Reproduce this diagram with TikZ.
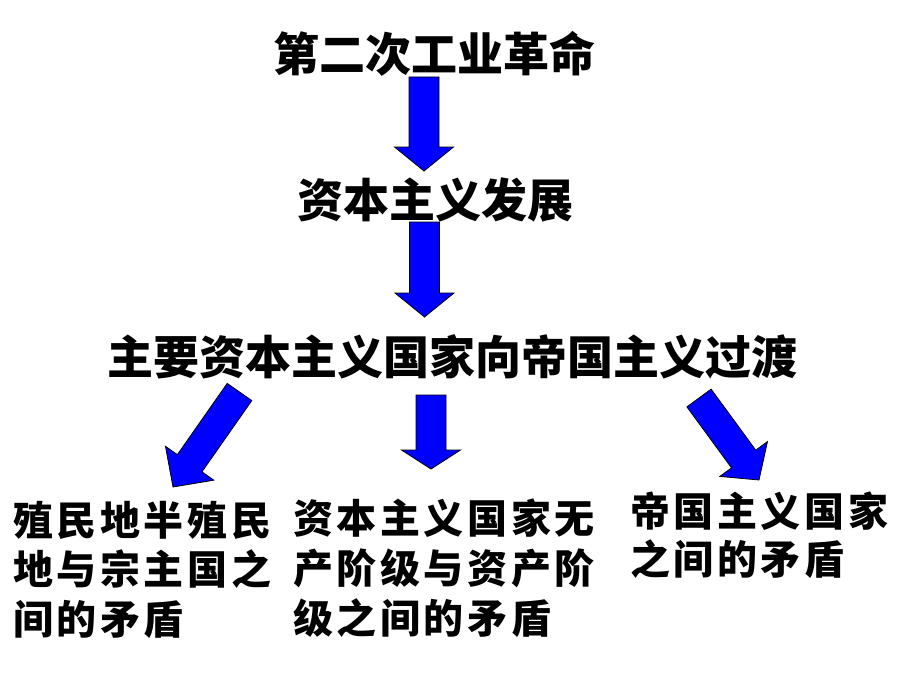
\documentclass[tikz,border=0pt]{standalone}
\usepackage{fontspec}
\usetikzlibrary{calc}
\newfontfamily\cjk{Noto Sans CJK SC}
\newfontfamily\cjksp{Noto Sans CJK SC}[LetterSpace=9]
\tikzset{
  blockarrow/.style={draw=black, line width=0.8pt, fill=blue, line join=miter},
  bigtext/.style={font=\cjk\bfseries\fontsize{46}{52}\selectfont, inner sep=0pt, text=black},
  smalltext/.style={font=\cjksp\bfseries\fontsize{40}{46}\selectfont, inner sep=0pt, anchor=west, text=black},
}
\newcommand\blockarrow[3]{%
  \coordinate (ba-c) at ($(#2)!#3!(#1)$);
  \draw[blockarrow] ($(#1)!15pt!90:(#2)$) -- ($(ba-c)!15pt!90:(#2)$) -- ($(ba-c)!29.5pt!90:(#2)$) -- (#2) -- ($(ba-c)!29.5pt!-90:(#2)$) -- ($(ba-c)!15pt!-90:(#2)$) -- ($(#1)!15pt!-90:(#2)$) -- cycle;
}
\begin{document}
\begin{tikzpicture}[x=1pt,y=-1pt]
\useasboundingbox[fill=white] (0,0) rectangle (920,690);
\node[bigtext] (t1) at (434.5,54) {第二次工业革命};
\node[bigtext] (t2) at (435,200) {资本主义发展};
\node[bigtext] (t3) at (452,357) {主要资本主义国家向帝国主义过渡};
% left block
\node[smalltext] (l1) at (13,520) {殖民地半殖民};
\node[smalltext] (l2) at (13,569.5) {地与宗主国之};
\node[smalltext] (l3) at (13,619.5) {间的矛盾};
% middle block
\node[smalltext] (m1) at (293,518) {资本主义国家无};
\node[smalltext] (m2) at (293,568) {产阶级与资产阶};
\node[smalltext] (m3) at (293,618) {级之间的矛盾};
% right block
\node[smalltext] (r1) at (630,511) {帝国主义国家};
\node[smalltext] (r2) at (630,559) {之间的矛盾};
% arrow ends
\coordinate (a1s) at (424,77);   \coordinate (a1e) at (424,171);
\coordinate (a2s) at (424.5,222); \coordinate (a2e) at (424.5,317);
\coordinate (a3s) at (431,395);  \coordinate (a3e) at (431,469);
\coordinate (a4s) at (239.5,392); \coordinate (a4e) at (173,487);
\coordinate (a5s) at (699,398);  \coordinate (a5e) at (759,480);
\blockarrow{a1s}{a1e}{24pt}
\blockarrow{a2s}{a2e}{24pt}
\blockarrow{a3s}{a3e}{19pt}
\blockarrow{a4s}{a4e}{29pt}
\blockarrow{a5s}{a5e}{26pt}
\end{tikzpicture}
\end{document}
